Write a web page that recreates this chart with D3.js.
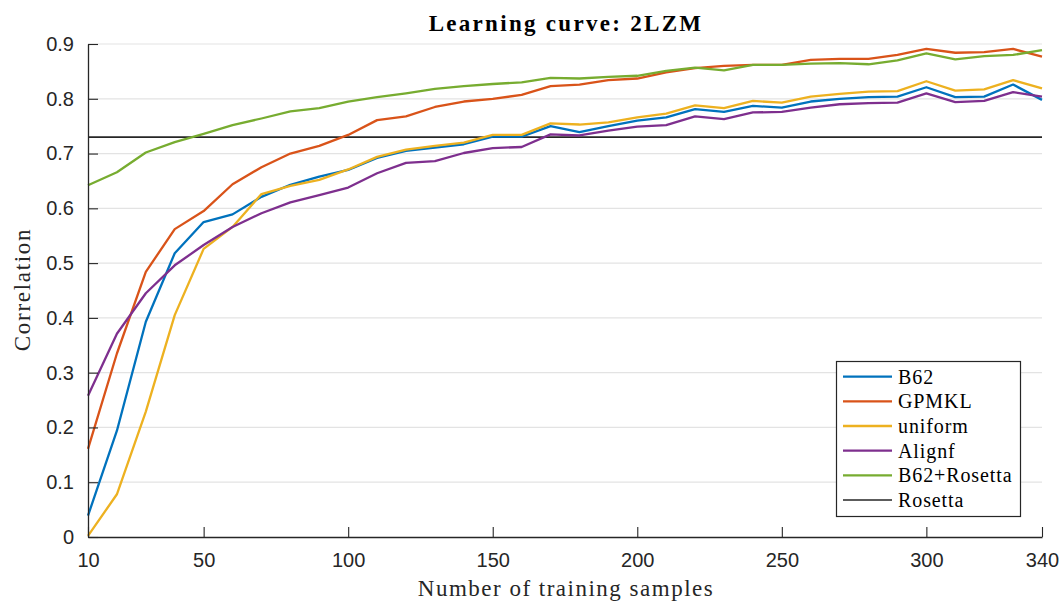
<!DOCTYPE html>
<html>
<head>
<meta charset="utf-8">
<script src="https://cdn.jsdelivr.net/npm/d3@7"></script>
<style>
  html, body { margin: 0; padding: 0; background: #fff; }
  svg { display: block; }
</style>
</head>
<body>
<svg id="chart" width="1059" height="601"></svg>
<script>
// Training set sizes (x axis)
const samples = [10, 20, 30, 40, 50, 60, 70, 80, 90, 100, 110, 120, 130, 140, 150, 160, 170,
  180, 190, 200, 210, 220, 230, 240, 250, 260, 270, 280, 290, 300, 310, 320, 330, 340];

// Correlation per method
const b62 = [0.039, 0.194, 0.393, 0.518, 0.575, 0.589, 0.621, 0.643, 0.658, 0.670, 0.692, 0.705,
  0.711, 0.717, 0.731, 0.731, 0.750, 0.739, 0.750, 0.760, 0.766, 0.781, 0.776, 0.787, 0.784,
  0.795, 0.800, 0.803, 0.804, 0.821, 0.803, 0.804, 0.826, 0.798];
const gpmkl = [0.161, 0.335, 0.484, 0.562, 0.595, 0.644, 0.675, 0.700, 0.714, 0.734, 0.761, 0.768,
  0.785, 0.795, 0.800, 0.807, 0.823, 0.826, 0.834, 0.837, 0.848, 0.856, 0.860, 0.862, 0.862,
  0.871, 0.873, 0.873, 0.880, 0.891, 0.884, 0.885, 0.891, 0.877];
const uniform = [0.002, 0.078, 0.229, 0.405, 0.526, 0.566, 0.626, 0.641, 0.652, 0.671, 0.694, 0.707,
  0.714, 0.720, 0.734, 0.734, 0.755, 0.753, 0.757, 0.766, 0.773, 0.788, 0.783, 0.796, 0.793,
  0.804, 0.809, 0.813, 0.814, 0.832, 0.815, 0.817, 0.834, 0.819];
const alignf = [0.258, 0.371, 0.445, 0.496, 0.533, 0.566, 0.591, 0.611, 0.624, 0.638, 0.664, 0.683,
  0.686, 0.701, 0.710, 0.712, 0.735, 0.733, 0.742, 0.749, 0.752, 0.768, 0.763, 0.775, 0.776,
  0.784, 0.790, 0.792, 0.793, 0.810, 0.794, 0.796, 0.812, 0.804];
const b62Rosetta = [0.642, 0.666, 0.702, 0.721, 0.736, 0.752, 0.764, 0.777, 0.783, 0.795, 0.803, 0.810,
  0.818, 0.823, 0.827, 0.830, 0.838, 0.837, 0.840, 0.842, 0.851, 0.857, 0.852, 0.862, 0.862,
  0.864, 0.865, 0.863, 0.870, 0.883, 0.872, 0.878, 0.880, 0.889];
// Rosetta baseline (constant)
const rosetta = 0.73;

const seriesNames = ["B62", "GPMKL", "uniform", "Alignf", "B62+Rosetta", "Rosetta"];
const seriesColors = ["#0072BD", "#D95319", "#EDB120", "#7E2F8E", "#77AC30", "#262626"];

const xTicks = [10, 50, 100, 150, 200, 250, 300, 340];
const yTicks = [0, 0.1, 0.2, 0.3, 0.4, 0.5, 0.6, 0.7, 0.8, 0.9];

const margin = { left: 88, right: 1042, top: 44, bottom: 537 };
const svg = d3.select("#chart");

const x = d3.scaleLinear().domain([10, 340]).range([margin.left, margin.right]);
const y = d3.scaleLinear().domain([0, 0.9]).range([margin.bottom, margin.top]);

const axisColor = "#262626";
const sansFont = "'Liberation Sans', Arial, Helvetica, sans-serif";
const serifFont = "'Liberation Serif', 'Times New Roman', serif";

// Horizontal grid
svg.append("g")
  .selectAll("line")
  .data(yTicks.filter(d => d > 0))
  .join("line")
  .attr("x1", margin.left).attr("x2", margin.right)
  .attr("y1", d => y(d)).attr("y2", d => y(d))
  .attr("stroke", "#e3e3e3").attr("stroke-width", 1.2);

// Data lines
const line = d3.line().x((d, i) => x(samples[i])).y(d => y(d));
const allSeries = [b62, gpmkl, uniform, alignf, b62Rosetta];

// Rosetta constant line
svg.append("line")
  .attr("x1", x(samples[0])).attr("x2", x(samples[samples.length - 1]))
  .attr("y1", y(rosetta)).attr("y2", y(rosetta))
  .attr("stroke", seriesColors[5]).attr("stroke-width", 1.6);

svg.append("g")
  .selectAll("path")
  .data(allSeries)
  .join("path")
  .attr("d", d => line(d))
  .attr("fill", "none")
  .attr("stroke", (d, i) => seriesColors[i])
  .attr("stroke-width", 2.3)
  .attr("stroke-linejoin", "round");

// Axes (ticks inward)
const xAxis = d3.axisBottom(x).tickValues(xTicks).tickSize(-10).tickPadding(14).tickSizeOuter(0);
const yAxis = d3.axisLeft(y).tickValues(yTicks).tickSize(-10).tickPadding(14).tickSizeOuter(0)
  .tickFormat(d => d === 0 ? "0" : d3.format(".1f")(d));

const gx = svg.append("g").attr("transform", `translate(0,${margin.bottom})`).call(xAxis);
const gy = svg.append("g").attr("transform", `translate(${margin.left},0)`).call(yAxis);

[gx, gy].forEach(g => {
  g.select(".domain").attr("stroke", axisColor).attr("stroke-width", 1.3);
  g.selectAll(".tick line").attr("stroke", axisColor).attr("stroke-width", 1.1);
  g.selectAll(".tick text")
    .attr("fill", axisColor)
    .style("font-family", sansFont)
    .style("font-size", "20px");
});
gx.selectAll(".tick text").attr("dy", "0.71em").attr("y", 16);
gy.selectAll(".tick text").attr("x", -14);

// Title
svg.append("text")
  .attr("x", (margin.left + margin.right) / 2 + 1)
  .attr("y", 31)
  .attr("text-anchor", "middle")
  .style("font-family", serifFont)
  .style("font-weight", "bold")
  .style("font-size", "23px")
  .style("letter-spacing", "2.3px")
  .attr("fill", "#000")
  .text("Learning curve: 2LZM");

// Axis labels
svg.append("text")
  .attr("x", (margin.left + margin.right) / 2 + 1)
  .attr("y", 596)
  .attr("text-anchor", "middle")
  .style("font-family", serifFont)
  .style("font-size", "23px")
  .style("letter-spacing", "1.5px")
  .attr("fill", axisColor)
  .text("Number of training samples");

svg.append("text")
  .attr("transform", `translate(30,${(margin.top + margin.bottom) / 2 - 1}) rotate(-90)`)
  .attr("text-anchor", "middle")
  .style("font-family", serifFont)
  .style("font-size", "23px")
  .style("letter-spacing", "1.7px")
  .attr("fill", axisColor)
  .text("Correlation");

// Legend
const legend = svg.append("g").attr("transform", "translate(836,361)");
legend.append("rect")
  .attr("x", 0.5).attr("y", 0.5)
  .attr("width", 184).attr("height", 155)
  .attr("fill", "#fff")
  .attr("stroke", axisColor).attr("stroke-width", 1.2);

const rows = legend.selectAll("g.entry")
  .data(seriesNames)
  .join("g")
  .attr("class", "entry")
  .attr("transform", (d, i) => `translate(0,${15.7 + i * 24.65})`);

rows.append("line")
  .attr("x1", 7).attr("x2", 56)
  .attr("stroke", (d, i) => seriesColors[i])
  .attr("stroke-width", (d, i) => i === 5 ? 1.6 : 2.3);

rows.append("text")
  .attr("x", 62)
  .attr("dy", "0.35em")
  .style("font-family", serifFont)
  .style("font-size", "20px")
  .style("letter-spacing", "0.9px")
  .attr("fill", "#000")
  .text(d => d);
</script>
</body>
</html>
